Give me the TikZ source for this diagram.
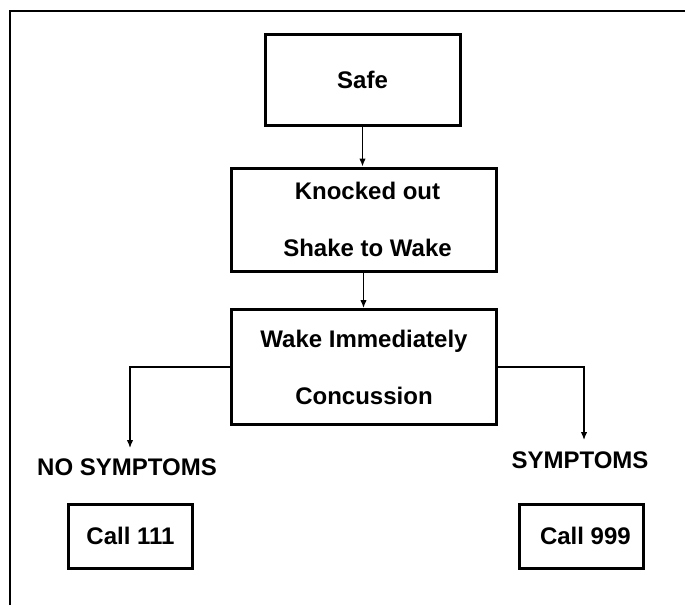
\documentclass[tikz,border=0pt]{standalone}
\usepackage{fontspec}
\setmainfont{Liberation Sans}
\usetikzlibrary{arrows.meta}
\begin{document}
\begin{tikzpicture}[x=1pt,y=-1pt,
  box/.style={draw=black,line width=3pt,inner sep=0pt,align=center,
    font=\fontsize{24}{57}\selectfont\bfseries},
  lbl/.style={inner sep=0pt,font=\fontsize{24}{28}\selectfont\bfseries},
  arr/.style={line width=1.3pt,-{Latex[length=8pt,width=6.5pt]}}]
\useasboundingbox (0,0) rectangle (685,605);
\fill[white] (0,0) rectangle (685,605);
\draw[line width=1.8pt] (10,605) -- (10,11) -- (685,11);
\node[box,minimum width=195pt,minimum height=91pt] (safe) at (362.5,79.5) {Safe};
\node[box,minimum width=265pt,minimum height=103pt] (knock) at (363.5,219.5) {\hspace*{8pt}Knocked out\\\hspace*{8pt}Shake to Wake};
\node[box,minimum width=265pt,minimum height=115pt] (wake) at (364,367) {Wake Immediately\\Concussion};
\node[lbl] (nosym) at (127,467.7) {NO SYMPTOMS};
\node[lbl] (sym) at (580,460) {SYMPTOMS};
\node[box,minimum width=124pt,minimum height=64pt] (c111) at (130.5,536.3) {Call 111};
\node[box,minimum width=124pt,minimum height=64pt] (c999) at (581.4,536.3) {\hspace*{8pt}Call 999};
\coordinate (la) at (130,448);
\coordinate (ra) at (584,440);
\draw[arr] (safe.south) -- (safe.south |- knock.north);
\draw[arr] (knock.south) -- (knock.south |- wake.north);
\draw[arr] (wake.west) -| (la);
\draw[arr] (wake.east) -| (ra);
\end{tikzpicture}
\end{document}
